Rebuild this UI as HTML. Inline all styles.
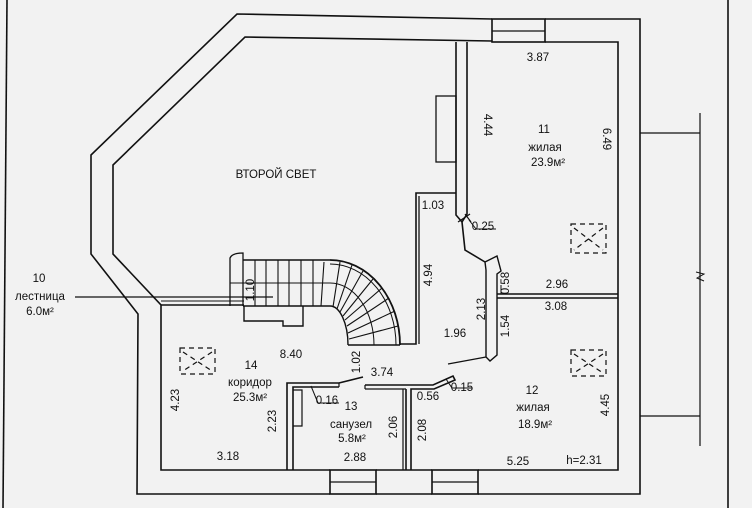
<!DOCTYPE html>
<html><head><meta charset="utf-8"><style>
html,body{margin:0;padding:0;background:#f2f2f2;}
svg{display:block;}
text{font-family:"Liberation Sans",sans-serif;font-size:11.5px;fill:#111;}
</style></head><body>
<svg width="752" height="508" viewBox="0 0 752 508" xmlns="http://www.w3.org/2000/svg">
<rect width="752" height="508" fill="#f2f2f2"/>
<g stroke="#111" fill="none" stroke-width="1.6">
<line x1="7" y1="0" x2="3" y2="508"/>
<line x1="728" y1="0" x2="728" y2="508"/>
<polyline points="492,19 237,14 91,155 91,254 138,314 137,494 330,494"/>
<polyline points="545,19 640,19 640,494 478,494"/>
<line x1="376" y1="494" x2="432" y2="494"/>
<polyline points="492,41 245,37 113,165 113,254 161,305 161,470 330,470"/>
<polyline points="545,42 618,42 618,470 478,470"/>
<line x1="376" y1="470" x2="432" y2="470"/>
<!-- windows -->
<rect x="492" y="19" width="53" height="23"/>
<line x1="492" y1="31" x2="545" y2="31" stroke-width="1.2"/>
<rect x="330" y="470" width="46" height="24"/>
<line x1="330" y1="482" x2="376" y2="482" stroke-width="1.2"/>
<rect x="432" y="470" width="46" height="24"/>
<line x1="432" y1="482" x2="478" y2="482" stroke-width="1.2"/>
<!-- annex -->
<polyline points="640,133 700,133" stroke-width="1.2"/>
<polyline points="640,416 700,416" stroke-width="1.2"/>
<line x1="700" y1="113" x2="700" y2="446" stroke-width="1.2"/>
<polyline points="696,272 704,274 697,278 704,281" stroke-width="1"/>
<polyline points="456,42 456,215 462,222 465,250 485,262"/>
<polyline points="467,42 467,214 462,222"/>
<rect x="436" y="96" width="20" height="66" stroke-width="1.3"/>
<line x1="465" y1="214" x2="471" y2="222" stroke-width="1.2"/>
<line x1="458" y1="222" x2="470" y2="214" stroke-width="1.2"/>
<line x1="469" y1="220" x2="476" y2="229" stroke-width="1"/>
<line x1="476" y1="229" x2="496" y2="229" stroke-width="1"/>
<polyline points="456,193 416,193 416,344 400,344"/>
<polyline points="419,196 419,344" stroke-width="1.3"/>
<polyline points="485,262 497,256 501,271 497,274 497,355 490,361 486,357 486,270 485,262" stroke-width="1.4"/>
<line x1="448" y1="364" x2="486" y2="357" stroke-width="1.2"/>
<line x1="497" y1="294" x2="618" y2="294"/>
<line x1="497" y1="298" x2="618" y2="298"/>
<line x1="501" y1="285" x2="501" y2="294" stroke-width="1"/>
<polyline points="365,385 433,385 453,376 455,380 434,389 411,389 411,470"/>
<line x1="406" y1="389" x2="406" y2="470"/>
<line x1="446" y1="379" x2="452" y2="388" stroke-width="1"/>
<line x1="452" y1="388" x2="472" y2="388" stroke-width="1"/>
<line x1="365" y1="385" x2="365" y2="389" stroke-width="1.2"/>
<line x1="365" y1="389" x2="406" y2="389" stroke-width="1.2"/>
<polyline points="363,377 339,383 287,383 287,470"/>
<polyline points="339,387 293,387 293,470"/>
<line x1="339" y1="383" x2="339" y2="387" stroke-width="1.2"/>
<polyline points="293,390 302,390 302,426 293,426" stroke-width="1.2"/>
<line x1="403" y1="389" x2="403" y2="470" stroke-width="1.2"/>
<line x1="311" y1="386" x2="318" y2="403" stroke-width="1"/>
<line x1="318" y1="403" x2="339" y2="403" stroke-width="1"/>
<line x1="161" y1="305" x2="244" y2="305" stroke-width="1.4"/>
<line x1="161" y1="301" x2="244" y2="301" stroke-width="1"/>
<path d="M230,306 L230,258 Q232,253 243,253 L243,306" stroke-width="1.3"/>
<line x1="230" y1="283" x2="330" y2="283" stroke-width="1"/>
<line x1="243" y1="260" x2="330" y2="260" stroke-width="1.6"/>
<line x1="243" y1="306" x2="330" y2="306" stroke-width="1.4"/>
<g stroke-width="1.1">
<line x1="255" y1="260" x2="255" y2="306"/><line x1="266" y1="260" x2="266" y2="306"/>
<line x1="278" y1="260" x2="278" y2="306"/><line x1="289" y1="260" x2="289" y2="306"/>
<line x1="301" y1="260" x2="301" y2="306"/><line x1="313" y1="260" x2="313" y2="306"/>
<line x1="324" y1="262" x2="321" y2="306"/>
<line x1="340" y1="262" x2="333" y2="307"/>
<line x1="352" y1="265" x2="337" y2="309"/>
<line x1="363" y1="271" x2="340" y2="312"/>
<line x1="373" y1="279" x2="343" y2="316"/>
<line x1="382" y1="288" x2="345" y2="320"/>
<line x1="389" y1="298" x2="347" y2="326"/>
<line x1="395" y1="311" x2="348" y2="333"/>
<line x1="398" y1="326" x2="349" y2="339"/>
</g>
<path d="M330,260 A70,85 0 0 1 400,345" stroke-width="1.8"/>
<path d="M330,264 A66,81 0 0 1 396,345" stroke-width="1"/>
<path d="M330,306 A18,39 0 0 1 348,345" stroke-width="1.4"/>
<path d="M330,283 A44,62 0 0 1 374,345" stroke-width="1"/>
<line x1="348" y1="345" x2="400" y2="345" stroke-width="1.4"/>
<polyline points="244,306 244,321 283,321 283,326 303,326 303,306" stroke-width="1.4"/>
<line x1="75" y1="297" x2="273" y2="297" stroke-width="1.2"/>
<g stroke-width="1.2" stroke-dasharray="5,4">
<rect x="180" y="348" width="35" height="26"/>
<rect x="571" y="224" width="35" height="29"/>
<rect x="571" y="350" width="35" height="26"/>
<line x1="183" y1="352" x2="212" y2="371"/><line x1="212" y1="352" x2="183" y2="371"/>
<line x1="574" y1="228" x2="603" y2="250"/><line x1="603" y1="228" x2="574" y2="250"/>
<line x1="574" y1="354" x2="603" y2="373"/><line x1="603" y1="354" x2="574" y2="373"/>
</g>
</g>
<g>
<text x="276" y="178" text-anchor="middle" font-size="12">ВТОРОЙ СВЕТ</text>
<text x="538" y="61" text-anchor="middle">3.87</text>
<text x="544" y="133" text-anchor="middle">11</text>
<text x="545" y="151" text-anchor="middle">жилая</text>
<text x="548" y="166" text-anchor="middle">23.9м²</text>
<text x="433" y="209" text-anchor="middle">1.03</text>
<text x="483" y="230" text-anchor="middle">0.25</text>
<text x="557" y="288" text-anchor="middle">2.96</text>
<text x="556" y="310" text-anchor="middle">3.08</text>
<text x="455" y="337" text-anchor="middle">1.96</text>
<text x="291" y="358" text-anchor="middle">8.40</text>
<text x="382" y="376" text-anchor="middle">3.74</text>
<text x="462" y="391" text-anchor="middle">0.15</text>
<text x="428" y="400" text-anchor="middle">0.56</text>
<text x="532" y="394" text-anchor="middle">12</text>
<text x="533" y="411" text-anchor="middle">жилая</text>
<text x="535" y="428" text-anchor="middle">18.9м²</text>
<text x="251" y="369" text-anchor="middle">14</text>
<text x="250" y="386" text-anchor="middle">коридор</text>
<text x="250" y="401" text-anchor="middle">25.3м²</text>
<text x="327" y="404" text-anchor="middle">0.16</text>
<text x="351" y="410" text-anchor="middle">13</text>
<text x="351" y="428" text-anchor="middle">санузел</text>
<text x="352" y="442" text-anchor="middle">5.8м²</text>
<text x="228" y="460" text-anchor="middle">3.18</text>
<text x="355" y="461" text-anchor="middle">2.88</text>
<text x="518" y="465" text-anchor="middle">5.25</text>
<text x="584" y="464" text-anchor="middle">h=2.31</text>
<text x="39" y="282" text-anchor="middle">10</text>
<text x="40" y="300" text-anchor="middle">лестница</text>
<text x="40" y="315" text-anchor="middle">6.0м²</text>
<text transform="translate(484,125) rotate(90)" text-anchor="middle">4.44</text>
<text transform="translate(603,139) rotate(90)" text-anchor="middle">6.49</text>
<text transform="translate(432,275) rotate(-90)" text-anchor="middle">4.94</text>
<text transform="translate(509,283) rotate(-90)" text-anchor="middle">0.58</text>
<text transform="translate(485,309) rotate(-90)" text-anchor="middle">2.13</text>
<text transform="translate(509,326) rotate(-90)" text-anchor="middle">1.54</text>
<text transform="translate(360,362) rotate(-90)" text-anchor="middle">1.02</text>
<text transform="translate(609,405) rotate(-90)" text-anchor="middle">4.45</text>
<text transform="translate(179,400) rotate(-90)" text-anchor="middle">4.23</text>
<text transform="translate(276,421) rotate(-90)" text-anchor="middle">2.23</text>
<text transform="translate(397,427) rotate(-90)" text-anchor="middle">2.06</text>
<text transform="translate(426,430) rotate(-90)" text-anchor="middle">2.08</text>
<text transform="translate(254,290) rotate(-90)" text-anchor="middle" font-size="10">1.10</text>
</g>
</svg>
</body></html>
